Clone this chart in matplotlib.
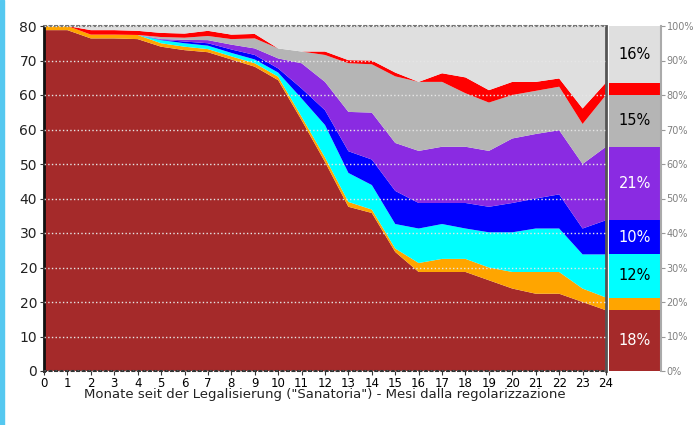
import numpy as np
import matplotlib
matplotlib.use("Agg")
import matplotlib.pyplot as plt

# Monate 0..24
monate = list(range(25))

# Anteile je Gruppe (%), von unten nach oben gestapelt
braun = [98.8, 98.8, 96.4, 96.4, 96.2, 94.0, 93.0, 92.4, 90.3, 88.2, 84.3, 72.7, 60.6,
         47.6, 45.8, 34.5, 28.7, 28.7, 28.7, 26.3, 23.9, 22.4, 22.4, 20.0, 17.6]
orange = [1.2, 1.2, 1.1, 1.1, 1.2, 1.0, 1.0, 0.9, 0.9, 1.0, 1.0, 1.0, 1.3,
          1.4, 1.0, 1.0, 2.6, 3.8, 3.8, 3.7, 4.8, 6.3, 6.3, 3.9, 3.7]
cyan = [0, 0, 0, 0, 0, 0.9, 1.0, 1.0, 1.0, 1.1, 1.2, 5.3, 9.4,
        8.4, 7.1, 7.1, 10.0, 10.1, 8.8, 10.2, 11.5, 12.6, 12.6, 9.9, 12.5]
blau = [0, 0, 0, 0, 0, 0.1, 0.5, 0.7, 1.0, 1.3, 1.2, 2.9, 4.3,
        6.3, 7.4, 9.6, 7.4, 6.1, 7.4, 7.4, 8.5, 8.7, 9.9, 7.5, 9.9]
lila = [0, 0, 0, 0, 0, 0.2, 0.5, 0.9, 1.4, 1.9, 2.9, 7.3, 8.2,
        11.4, 13.6, 13.9, 15.1, 16.3, 16.3, 16.2, 18.7, 18.7, 18.6, 18.7, 21.3]
grau = [0, 0, 0, 0, 0, 0.6, 0.6, 1.2, 1.6, 2.9, 2.9, 3.4, 7.8,
        14.1, 14.0, 19.3, 20.0, 18.8, 15.5, 14.0, 12.6, 12.5, 12.6, 11.6, 15.0]
rot = [0, 0, 1.3, 1.3, 1.2, 1.2, 1.2, 1.5, 1.3, 1.3, 0, 0, 1.0,
       0.9, 1.1, 1.1, 0, 2.5, 4.6, 3.6, 3.8, 2.6, 2.4, 4.5, 3.6]
hellgrau = [0, 0, 1.2, 1.2, 1.4, 2.0, 2.2, 1.4, 2.5, 2.3, 6.5, 7.4, 7.4,
            9.9, 10.0, 13.5, 16.2, 13.7, 14.9, 18.6, 16.2, 16.2, 15.2, 23.9, 16.4]

farben = ['#a52a2a', '#ffa500', '#00ffff', '#0000ff', '#8a2be2', '#b5b5b5', '#ff0000', '#dfdfdf']
reihen = [braun, orange, cyan, blau, lila, grau, rot, hellgrau]

# Beschriftung der Balken rechts (letzter Monat)
balken_text = ['18%', '', '12%', '10%', '21%', '15%', '', '16%']
balken_textfarbe = ['white', 'black', 'black', 'white', 'white', 'black', 'black', 'black']

# Beschriftung der linken Achse (wie im Original)
y_labels = ['0', '10', '20', '20', '30', '40', '50', '60', '60', '70', '80']

fig = plt.figure(figsize=(6.94, 4.25), dpi=100)

# blauer Streifen links
fig.patches.append(plt.Rectangle((0, 0), 4 / 694, 1, transform=fig.transFigure,
                                 color='#55c8f0', zorder=0))

ax = fig.add_axes([44 / 694, 54 / 425, 562 / 694, 345 / 425])
ax.stackplot(monate, *reihen, colors=farben, linewidth=0)
ax.set_xlim(0, 24)
ax.set_ylim(0, 100)
ax.set_xticks(monate)
ax.set_xticklabels([str(m) for m in monate], fontsize=8.5)
ax.set_yticks(np.arange(0, 101, 10))
ax.set_yticklabels(y_labels, fontsize=10, color='#222222')
ax.tick_params(axis='x', length=3, pad=1, color='#333333')
ax.tick_params(axis='y', length=3, pad=2, color='#333333')
ax.grid(True, axis='y', color='#e6e6e6', linestyle=':', linewidth=1)
ax.set_axisbelow(False)
ax.spines['left'].set_linewidth(2)
ax.spines['left'].set_color('#111111')
ax.spines['right'].set_linewidth(2)
ax.spines['right'].set_color('#555555')
ax.spines['top'].set_linestyle(':')
ax.spines['top'].set_color('#777777')
ax.spines['top'].set_linewidth(1.5)
ax.spines['bottom'].set_linestyle(':')
ax.spines['bottom'].set_color('#333333')
ax.spines['bottom'].set_linewidth(1.5)
ax.set_xlabel('Monate seit der Legalisierung ("Sanatoria") - Mesi dalla regolarizzazione',
              fontsize=9.5, color='#222222', labelpad=-1)

# Balken rechts mit den Werten des letzten Monats
bx = fig.add_axes([609 / 694, 54 / 425, 52 / 694, 345 / 425])
unten = 0
for werte, farbe, txt, tf in zip(reihen, farben, balken_text, balken_textfarbe):
    h = werte[-1]
    bx.bar(0, h, bottom=unten, width=1, color=farbe, linewidth=0)
    if txt:
        bx.text(0, unten + h / 2, txt, ha='center', va='center', fontsize=10.5, color=tf)
    unten += h
bx.set_xlim(-0.5, 0.5)
bx.set_ylim(0, 100)
bx.set_xticks([])
bx.yaxis.tick_right()
bx.set_yticks(np.arange(0, 101, 10))
bx.set_yticklabels([f'{v}%' for v in range(0, 101, 10)], fontsize=7, color='#808080')
bx.tick_params(axis='y', length=3, pad=1, color='#999999')
for s in ['left', 'top', 'bottom']:
    bx.spines[s].set_visible(False)
bx.spines['right'].set_color('#aaaaaa')
bx.spines['right'].set_linewidth(1.5)

fig.savefig('out.png', dpi=100)
